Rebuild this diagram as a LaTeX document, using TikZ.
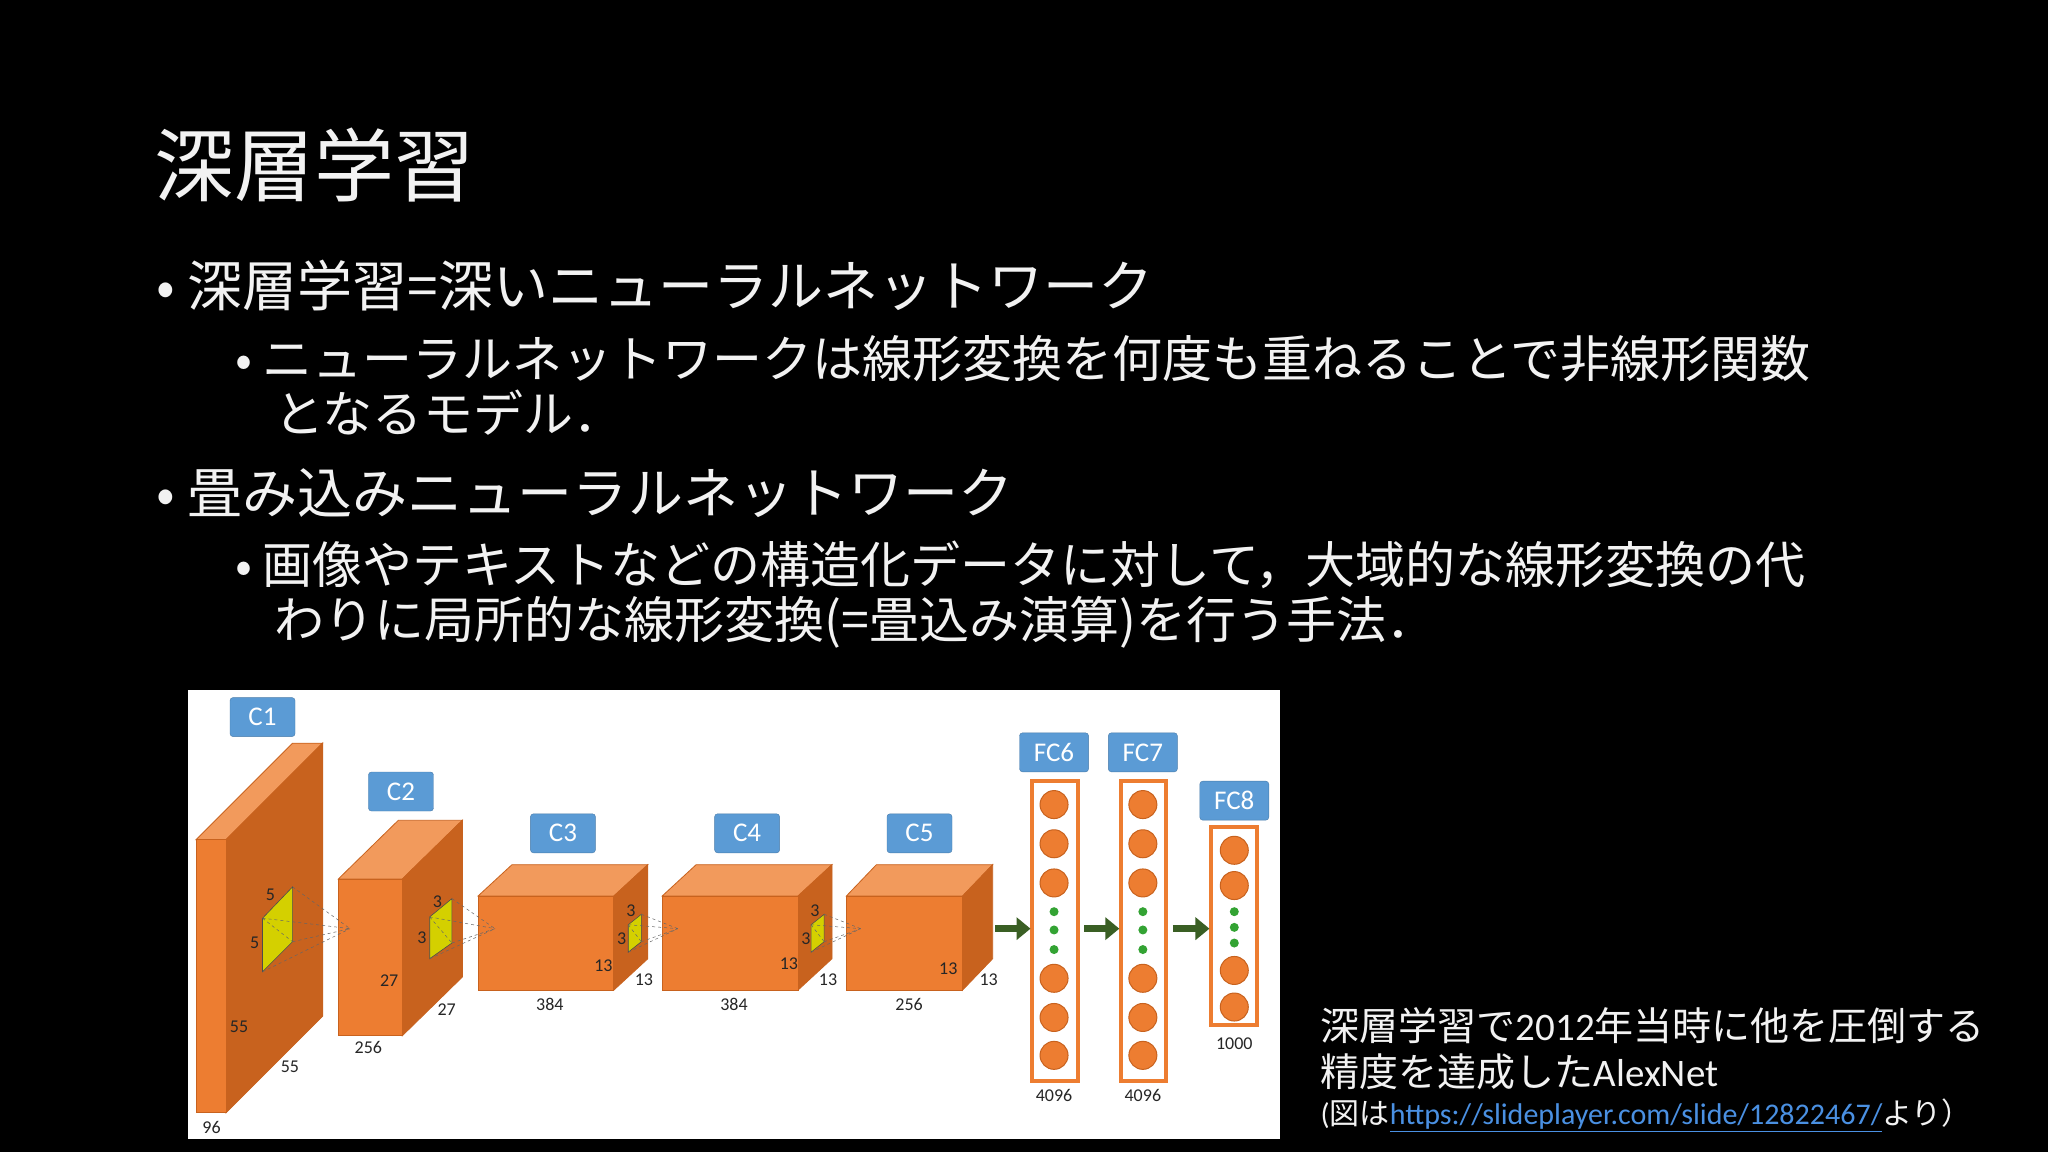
\documentclass[tikz,border=0pt]{standalone}
\usepackage{fontspec}
\setmainfont{Carlito}
\newfontfamily\cjk{Noto Sans CJK JP}
\usetikzlibrary{arrows.meta}
\definecolor{orF}{HTML}{ED7D31}
\definecolor{orT}{HTML}{F29A5C}
\definecolor{orS}{HTML}{C8621E}
\definecolor{blu}{HTML}{5B9BD5}
\definecolor{grn}{HTML}{3A5F24}
\definecolor{ylw}{HTML}{D4D000}
\definecolor{lnk}{HTML}{4A90E2}
\newcommand\mycube[6]{%
 \fill[orT,draw=orS,line width=0.8] (#1,#3)--(#1+#5,#3-#6)--(#2+#5,#3-#6)--(#2,#3)--cycle;
 \fill[orS,draw=orS,line width=0.8] (#2,#3)--(#2+#5,#3-#6)--(#2+#5,#4-#6)--(#2,#4)--cycle;
 \fill[orF,draw=orS,line width=0.8] (#1,#3) rectangle (#2,#4);}
\newcommand\mykern[9]{%
 \fill[ylw,draw=black!70,line width=0.6] (#1,#3)--(#2,#4)--(#2,#5)--(#1,#6)--cycle;
 \draw[black!60,dashed,line width=0.5] (#1,#3)--(#7,#8) (#2,#4)--(#7,#8) (#2,#5)--(#7,#8) (#1,#6)--(#7,#8) (#1,#3)--(#2,#5);}
\tikzset{lbl/.style={fill=blu,draw=blu!80!black,rounded corners=3,text=white,font=\fontsize{27}{30}\selectfont,inner sep=0pt,minimum height=39,minimum width=#1},
 dim/.style={font=\fontsize{18}{20}\selectfont,text=black!85,inner sep=0pt},
 neur/.style={circle,fill=orF,draw=orS,line width=1,minimum size=28,inner sep=0pt},
 dotn/.style={circle,fill=green!55!black!80,minimum size=9,inner sep=0pt},
 fcbox/.style={draw=orF,line width=4,fill=white},
 garr/.style={grn,line width=7,-{Triangle[length=14,width=22]}},
 wt/.style={text=white!95!black,anchor=base west,inner sep=0pt}}
\begin{document}
\begin{tikzpicture}[x=1.306pt,y=-1.306pt]
\fill[black] (0,0) rectangle (1568,882);
\useasboundingbox (0,0) rectangle (1568,882);
% texts
\node[wt,font=\cjk\fontsize{80}{90}\selectfont] (title) at (118,150) {深層学習};
\node[wt,font=\cjk\fontsize{55}{60}\selectfont] (b1) at (120,235) {• 深層学習=深いニューラルネットワーク};
\node[wt,font=\cjk\fontsize{50}{60}\selectfont] (s1a) at (180,289) {•\hspace{10pt}ニューラルネットワークは線形変換を何度も重ねることで非線形関数};
\node[wt,font=\cjk\fontsize{50}{60}\selectfont] (s1b) at (210,331) {となるモデル．};
\node[wt,font=\cjk\fontsize{55}{60}\selectfont] (b2) at (120,393) {• 畳み込みニューラルネットワーク};
\node[wt,font=\cjk\fontsize{50}{60}\selectfont] (s2a) at (180,447) {•\hspace{10pt}画像やテキストなどの構造化データに対して，大域的な線形変換の代};
\node[wt,font=\cjk\fontsize{50}{60}\selectfont] (s2b) at (210,489) {わりに局所的な線形変換(=畳込み演算)を行う手法．};
\node[wt,font=\fontsize{39}{44}\selectfont] (c1) at (1011,797) {{\cjk 深層学習で}2012{\cjk 年当時に他を圧倒する}};
\node[wt,font=\fontsize{39}{44}\selectfont] (c2) at (1011,832) {{\cjk 精度を達成した}AlexNet};
\node[wt,font=\fontsize{30}{34}\selectfont] (c3) at (1011,861) {({\cjk 図は}{\color{lnk}\underline{https://slideplayer.com/slide/12822467/}}{\cjk より）}};
% panel
\fill[white] (144,528) rectangle (980,872);
\mycube{150}{173}{643}{852}{74}{74}
\mycube{259}{308}{673}{793}{46}{45}
\mycube{366}{470}{686}{758}{26}{24}
\mycube{507}{611}{686}{758}{26}{24}
\mycube{648}{737}{686}{758}{23}{24}
\mykern{201}{224}{703}{679}{721}{744}{268}{711}{}
\mykern{329}{346}{702}{688}{722}{734}{379}{711}{}
\mykern{481}{491}{708}{700}{721}{729}{519}{711}{}
\mykern{621}{631}{708}{700}{721}{729}{659}{711}{}
\node[lbl=65] (lc1) at (201,549) {C1};
\node[lbl=65] (lc2) at (307,606) {C2};
\node[lbl=65] (lc3) at (431,638) {C3};
\node[lbl=65] (lc4) at (572,638) {C4};
\node[lbl=65] (lc5) at (704,638) {C5};
\node[lbl=69] (lf6) at (807,576) {FC6};
\node[lbl=69] (lf7) at (875,576) {FC7};
\node[lbl=69] (lf8) at (945,613) {FC8};
\draw[fcbox] (790,598) rectangle (825,828);
\draw[fcbox] (858,598) rectangle (893,828);
\draw[fcbox] (927,633) rectangle (962,785);
\foreach \c/\x in {a/807,b/875}{
 \foreach \y [count=\i] in {616,646,676,749,779,808} \node[neur] (n\c\i) at (\x,\y) {};
 \foreach \y [count=\i] in {698,712,727} \node[dotn] (d\c\i) at (\x,\y) {};}
\foreach \y [count=\i] in {651,678,743,771} \node[neur] (nc\i) at (945,\y) {};
\foreach \y [count=\i] in {698,710,722} \node[dotn] (dc\i) at (945,\y) {};
\coordinate (a1) at (762,711); \coordinate (a2) at (789,711);
\coordinate (a3) at (830,711); \coordinate (a4) at (857,711);
\coordinate (a5) at (898,711); \coordinate (a6) at (926,711);
\draw[garr] (a1)--(a2); \draw[garr] (a3)--(a4); \draw[garr] (a5)--(a6);
% dims
\node[dim] at (162,863) {96}; \node[dim] at (183,786) {55}; \node[dim] at (222,817) {55};
\node[dim] at (207,685) {5}; \node[dim] at (195,722) {5};
\node[dim] at (298,751) {27}; \node[dim] at (342,773) {27}; \node[dim] at (282,802) {256};
\node[dim] at (335,690) {3}; \node[dim] at (323,718) {3};
\node[dim] at (462,739) {13}; \node[dim] at (493,750) {13}; \node[dim] at (421,769) {384};
\node[dim] at (483,697) {3}; \node[dim] at (476,719) {3};
\node[dim] at (604,738) {13}; \node[dim] at (634,750) {13}; \node[dim] at (562,769) {384};
\node[dim] at (624,697) {3}; \node[dim] at (617,719) {3};
\node[dim] at (726,742) {13}; \node[dim] at (757,750) {13}; \node[dim] at (696,769) {256};
\node[dim] at (807,839) {4096}; \node[dim] at (875,839) {4096}; \node[dim] at (945,799) {1000};
\end{tikzpicture}
\end{document}
